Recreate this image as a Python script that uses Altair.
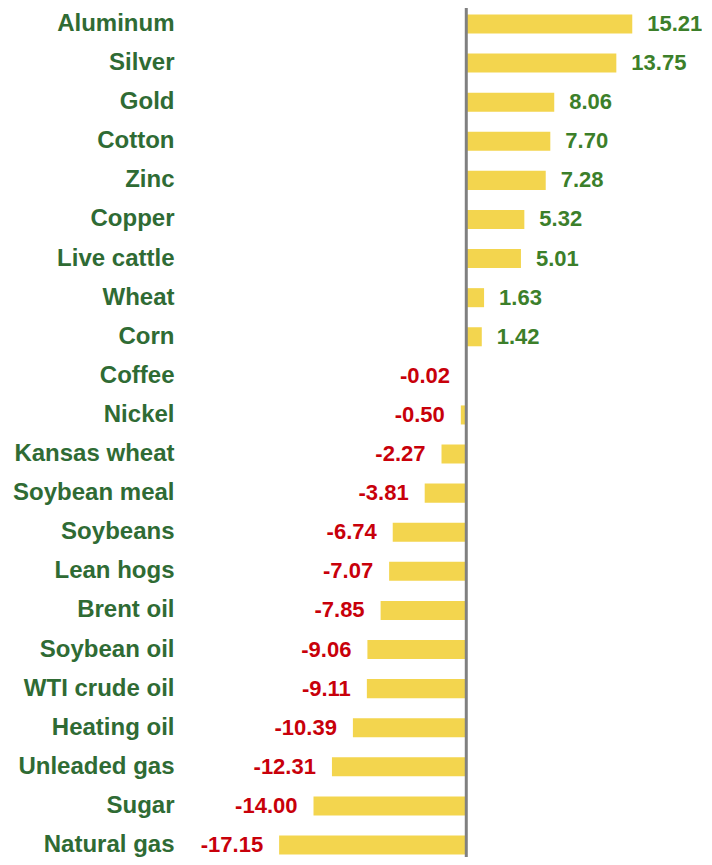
import altair as alt
import pandas as pd

commodities = ["Aluminum", "Silver", "Gold", "Cotton", "Zinc", "Copper", "Live cattle",
               "Wheat", "Corn", "Coffee", "Nickel", "Kansas wheat", "Soybean meal",
               "Soybeans", "Lean hogs", "Brent oil", "Soybean oil", "WTI crude oil",
               "Heating oil", "Unleaded gas", "Sugar", "Natural gas"]
changes = [15.21, 13.75, 8.06, 7.70, 7.28, 5.32, 5.01, 1.63, 1.42, -0.02, -0.50, -2.27,
           -3.81, -6.74, -7.07, -7.85, -9.06, -9.11, -10.39, -12.31, -14.00, -17.15]

df = pd.DataFrame({"commodity": commodities, "change": changes})
df["label"] = [f"{v:.2f}" for v in changes]

FONT = "Liberation Sans"
x_scale = alt.Scale(domain=[-25.5, 21.6], nice=False, zero=False)
y_scale = alt.Scale(paddingInner=0.513, paddingOuter=0.166, range=[0, 853])
y_enc = alt.Y("commodity:N", sort=commodities, scale=y_scale,
              axis=alt.Axis(title=None, domain=False, ticks=False, grid=False,
                            labelFont=FONT, labelFontSize=24, labelFontWeight="bold",
                            labelColor="#2F6B34", labelPadding=14, labelLimit=300))

base = alt.Chart(df)

bars = base.mark_bar(color="#F3D54E").encode(
    x=alt.X("change:Q", scale=x_scale, axis=None),
    y=y_enc,
)

pos = base.transform_filter("datum.change >= 0").mark_text(
    align="left", baseline="middle", dx=15, font=FONT, fontSize=22, fontWeight="bold",
    color="#3C7F2A"
).encode(x=alt.X("change:Q", scale=x_scale), y=alt.Y("commodity:N", sort=commodities), text="label:N")

neg = base.transform_filter("datum.change < 0").mark_text(
    align="right", baseline="middle", dx=-16, font=FONT, fontSize=22, fontWeight="bold",
    color="#C8000A"
).encode(x=alt.X("change:Q", scale=x_scale), y=alt.Y("commodity:N", sort=commodities), text="label:N")

zero = alt.Chart(pd.DataFrame({"z": [0]})).mark_rule(color="#808080", strokeWidth=3, clip=False).encode(
    x=alt.X("z:Q", scale=x_scale),
    y=alt.value(0),
    y2=alt.value(849),
)

chart = alt.layer(bars, zero, pos, neg).properties(
    width=514, height=849,
    autosize=alt.AutoSizeParams(type="none"),
    padding={"left": 180, "top": 0, "right": 0, "bottom": 0},
    background="white",
).configure_view(stroke="transparent", strokeWidth=0)

chart.save("out.html", embed_options={"renderer": "svg", "actions": False})
